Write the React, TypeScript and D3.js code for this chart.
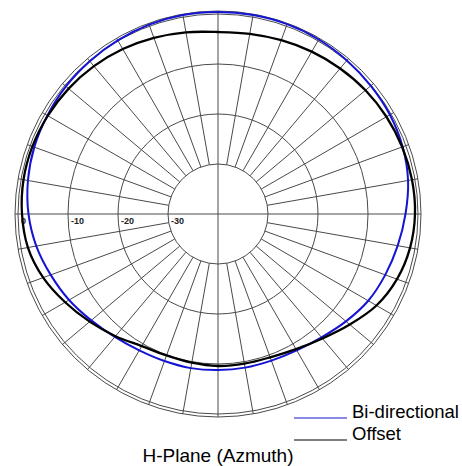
import * as d3 from 'd3';

// azimuth in degrees, clockwise from top
const angles = d3.range(0, 360, 10);
// Bi-directional pattern (dB)
const biDirectional = [
  0.4, 0.4, 0.4, 0.3, 0.1, -0.1, -0.3, -0.7, -1.4, -2.5, -3.5, -4.4,
  -5.3, -6.6, -7.8, -8.5, -8.8, -8.8, -8.8, -8.7, -8.7, -8.5, -7.9, -6.9,
  -5.6, -4.4, -3.1, -2.1, -1.4, -0.9, -0.6, -0.3, -0.1, 0.1, 0.3, 0.4,
];
// Offset pattern (dB)
const offset = [
  -3.6, -3.4, -3.0, -2.5, -2.0, -1.5, -1.1, -0.8, -0.6, -0.6, -1.0, -1.9,
  -3.4, -5.6, -7.5, -8.8, -9.5, -9.6, -9.6, -9.8, -9.9, -9.5, -8.1, -6.5,
  -4.7, -2.8, -1.4, -0.8, -0.5, -0.5, -0.7, -1.0, -1.4, -1.9, -2.5, -3.1,
];
const ringTicks = [0, -10, -20, -30];
const ringLabels = ['0', '-10', '-20', '-30'];
const seriesNames = ['Bi-directional', 'Offset'];
const title = 'H-Plane (Azmuth)';

const W = 462;
const H = 466;
const cx = 218;
const cy = 214;

export default function App() {
  const r = d3.scaleLinear().domain([-40, 0]).range([0, 200]);
  const a = d3.scaleLinear().domain([0, 360]).range([0, 2 * Math.PI]);
  const outer = r(0) + 3;
  const grid = '#4a4a4a';

  const line = d3
    .lineRadial<number>()
    .angle((_, i) => a(angles[i]))
    .radius((d) => r(d))
    .curve(d3.curveCatmullRomClosed.alpha(0.5));

  const series = [
    { name: seriesNames[0], values: biDirectional, color: '#1414d2', width: 2 },
    { name: seriesNames[1], values: offset, color: '#000', width: 2.3 },
  ];

  const pt = (deg: number, rad: number) => {
    const t = a(deg);
    return [rad * Math.sin(t), -rad * Math.cos(t)];
  };

  return (
    <svg
      width={W}
      height={H}
      style={{ position: 'absolute', left: 0, top: 0, background: '#fff' }}
      fontFamily="'Liberation Sans', Arial, sans-serif"
    >
      <g transform={`translate(${cx},${cy})`}>
        {/* rings */}
        {ringTicks.map((t) => (
          <circle key={t} r={r(t)} fill="none" stroke={grid} strokeWidth={1} />
        ))}
        <circle r={outer} fill="none" stroke={grid} strokeWidth={1} />
        {/* spokes */}
        {angles.map((deg) => {
          const full = deg % 90 === 0;
          const [x1, y1] = pt(deg, full ? 0 : r(-30));
          const [x2, y2] = pt(deg, outer);
          return (
            <line key={deg} x1={x1} y1={y1} x2={x2} y2={y2} stroke={grid} strokeWidth={1} />
          );
        })}
        {/* ring labels */}
        {ringTicks.map((t, i) => (
          <text
            key={t}
            x={-r(t) + 3}
            y={10}
            fontSize={9}
            fontWeight="bold"
            fill="#222"
          >
            {ringLabels[i]}
          </text>
        ))}
        {/* traces */}
        {series.map((s) => (
          <path
            key={s.name}
            d={line(s.values) || ''}
            fill="none"
            stroke={s.color}
            strokeWidth={s.width}
          />
        ))}
      </g>
      {/* legend */}
      {series.map((s, i) => (
        <g key={s.name} transform={`translate(0,${418 + i * 22})`}>
          <line x1={294} x2={347} y1={0} y2={0} stroke={s.color} strokeWidth={1.2} />
          <text x={352} y={0} fontSize={18.5} fill="#000">
            {s.name}
          </text>
        </g>
      ))}
      <text x={cx} y={462} fontSize={19} textAnchor="middle" fill="#000">
        {title}
      </text>
    </svg>
  );
}
